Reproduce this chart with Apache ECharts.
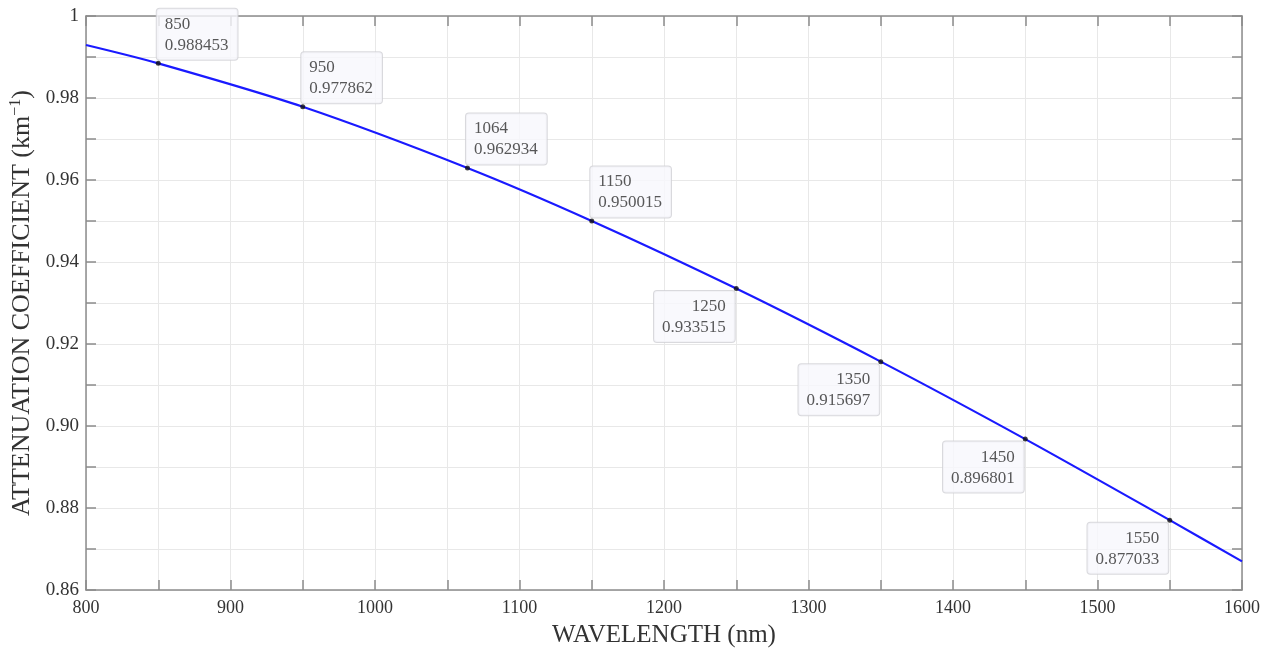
<!DOCTYPE html>
<html>
<head>
<meta charset="utf-8">
<title>Attenuation coefficient vs wavelength</title>
<script src="https://cdn.jsdelivr.net/npm/echarts@6/dist/echarts.min.js"></script>
<style>
  html, body { margin: 0; padding: 0; background: #ffffff; }
  #chart { width: 1270px; height: 652px; }
</style>
</head>
<body>
<div id="chart"></div>
<script>
// Curve samples: wavelength (nm) and attenuation coefficient (km^-1)
const wavelengths = [800, 850, 950, 1064, 1150, 1250, 1350, 1450, 1550, 1600];
const attenuation = [0.99293, 0.988453, 0.977862, 0.962934, 0.950015, 0.933515, 0.915697, 0.896801, 0.877033, 0.86698];

// Annotated data tips
const tipWavelengths = [850, 950, 1064, 1150, 1250, 1350, 1450, 1550];
const tipValues = [0.988453, 0.977862, 0.962934, 0.950015, 0.933515, 0.915697, 0.896801, 0.877033];
// 'ur' = box above-right of the point, 'll' = box below-left
const tipSides = ['ur', 'ur', 'ur', 'ur', 'll', 'll', 'll', 'll'];

const serif = '"Liberation Serif", "Times New Roman", serif';
const axisGray = '#8c8c8c';
const textGray = '#333333';

const chart = echarts.init(document.getElementById('chart'), null, { renderer: 'canvas' });

const tipStyle = {
  show: true,
  formatter: p => p.value[0] + '\n' + p.value[1],
  fontFamily: serif,
  fontSize: 17,
  lineHeight: 21,
  color: '#2e2e2e',
  backgroundColor: '#f8f8fc',
  borderColor: '#cfcfd4',
  borderWidth: 1,
  borderRadius: 3,
  padding: [5, 9, 4, 8]
};

const tipData = tipWavelengths.map((w, i) => {
  const ur = tipSides[i] === 'ur';
  return {
    value: [w, tipValues[i]],
    label: ur
      ? { position: [1, -1], align: 'left', verticalAlign: 'bottom' }
      : { position: [1, 5], align: 'right', verticalAlign: 'top' }
  };
});

const tick = { show: true, inside: true, length: 10, lineStyle: { color: axisGray, width: 1.5 } };
const frameLine = { show: true, onZero: false, lineStyle: { color: axisGray, width: 1.5 } };

const option = {
  animation: false,
  backgroundColor: '#ffffff',
  grid: { left: 86, right: 28, top: 16, bottom: 62, containLabel: false, outerBoundsMode: 'none' },
  xAxis: [
    {
      type: 'value', min: 800, max: 1600, interval: 50,
      name: 'WAVELENGTH (nm)', nameLocation: 'middle', nameGap: 33,
      nameTextStyle: { fontFamily: serif, fontSize: 25, color: textGray },
      axisLine: frameLine,
      axisTick: tick,
      axisLabel: {
        margin: 9, fontFamily: serif, fontSize: 18, color: textGray,
        formatter: v => (v % 100 === 0 ? String(v) : '')
      },
      splitLine: { show: true, lineStyle: { color: '#e8e8e8', width: 1 } }
    },
    {
      type: 'value', position: 'top', min: 800, max: 1600, interval: 50,
      axisLine: frameLine,
      axisTick: tick,
      axisLabel: { show: false },
      splitLine: { show: false }
    }
  ],
  yAxis: [
    {
      type: 'value', min: 0.86, max: 1, interval: 0.01,
      name: 'ATTENUATION COEFFICIENT (km{sup|−1})', nameLocation: 'middle', nameGap: 48,
      nameTextStyle: {
        fontFamily: serif, fontSize: 26, color: textGray,
        rich: { sup: { fontFamily: serif, fontSize: 16, color: textGray, verticalAlign: 'top', padding: [0, 0, 12, 0] } }
      },
      axisLine: frameLine,
      axisTick: tick,
      axisLabel: {
        margin: 7, fontFamily: serif, fontSize: 19, color: textGray,
        formatter: v => {
          const k = Math.round(v * 100);
          if (k % 2 !== 0) return '';
          return k === 100 ? '1' : (k / 100).toFixed(2);
        }
      },
      splitLine: { show: true, lineStyle: { color: '#e8e8e8', width: 1 } }
    },
    {
      type: 'value', position: 'right', min: 0.86, max: 1, interval: 0.01,
      axisLine: frameLine,
      axisTick: tick,
      axisLabel: { show: false },
      splitLine: { show: false }
    }
  ],
  series: [
    {
      name: 'attenuation',
      type: 'line',
      data: wavelengths.map((w, i) => [w, attenuation[i]]),
      smooth: 0.3,
      showSymbol: false,
      lineStyle: { color: '#1a1aff', width: 2.2 },
      z: 2
    },
    {
      name: 'tips',
      type: 'scatter',
      data: tipData,
      symbol: 'circle',
      symbolSize: 5,
      itemStyle: { color: '#111111' },
      label: tipStyle,
      z: 3
    }
  ]
};

chart.setOption(option);
</script>
</body>
</html>
